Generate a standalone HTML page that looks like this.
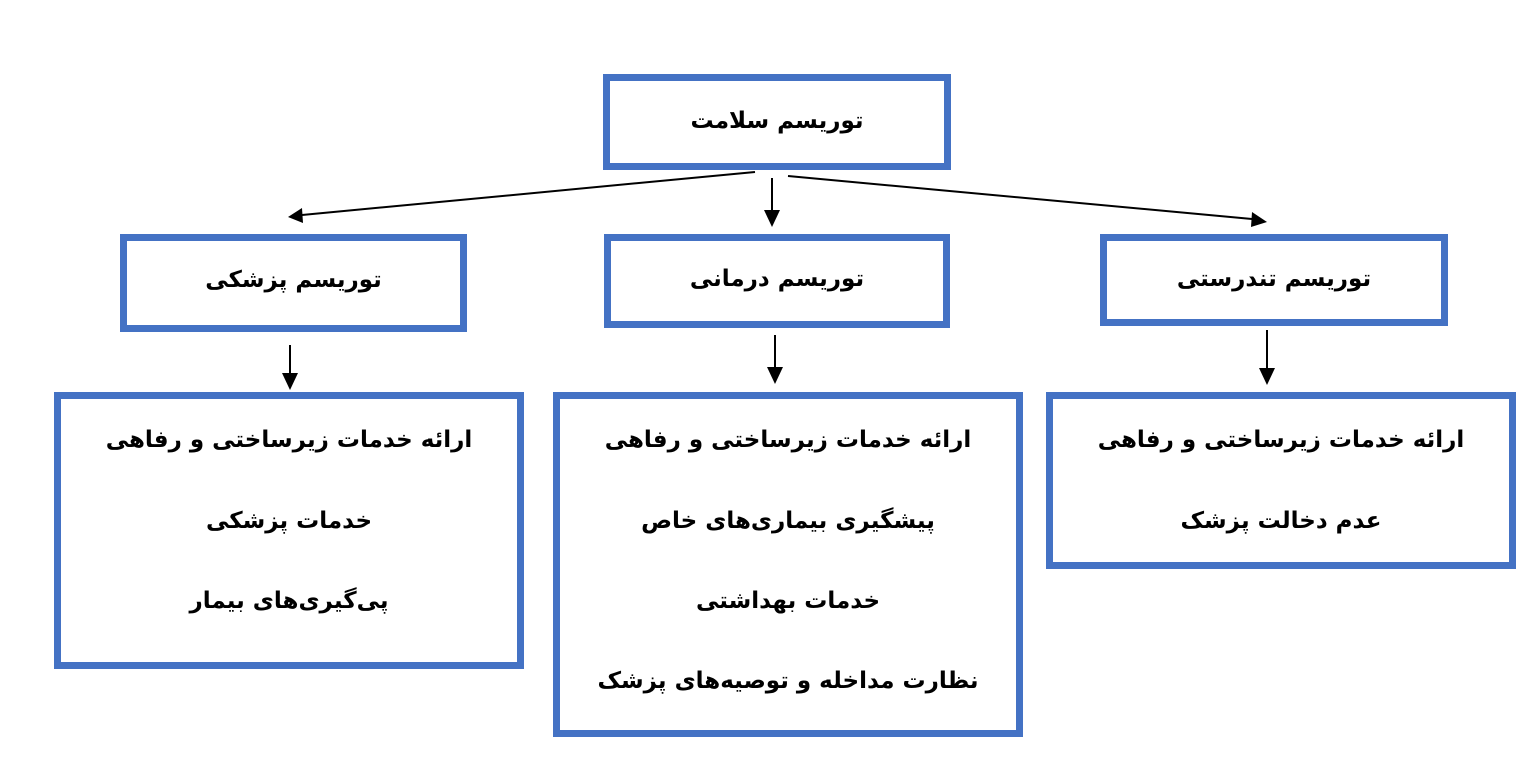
<!DOCTYPE html>
<html><head><meta charset="utf-8"><style>
body{margin:0;width:1532px;height:757px;background:#fff;position:relative;overflow:hidden;font-family:"DejaVu Sans",sans-serif;}
.b{position:absolute;box-sizing:border-box;border:7px solid #4472C4;background:#fff;}
.t{position:absolute;left:0;right:0;text-align:center;font-weight:bold;font-size:23px;direction:rtl;color:#000;line-height:30px;}
svg{position:absolute;left:0;top:0;}
</style></head><body>
<svg width="1532" height="757">
<g stroke="#000" stroke-width="2" fill="none">
<line x1="755" y1="172" x2="302" y2="215"/><path d="M302,208 L288,217 L303,223 z" fill="#000" stroke="none"/>
<line x1="788" y1="176" x2="1252" y2="219"/><path d="M1252,212 L1267,222 L1251,227 z" fill="#000" stroke="none"/>
<line x1="772" y1="178" x2="772" y2="212"/><path d="M764,210 L780,210 L772,227 z" fill="#000" stroke="none"/>
<line x1="290" y1="345" x2="290" y2="375"/><path d="M282,373 L298,373 L290,390 z" fill="#000" stroke="none"/>
<line x1="775" y1="335" x2="775" y2="369"/><path d="M767,367 L783,367 L775,384 z" fill="#000" stroke="none"/>
<line x1="1267" y1="330" x2="1267" y2="370"/><path d="M1259,368 L1275,368 L1267,385 z" fill="#000" stroke="none"/>
</g></svg>
<div class="b" style="left:603px;top:74px;width:348px;height:96px"><div class="t" style="top:25px">توریسم سلامت</div></div>
<div class="b" style="left:120px;top:234px;width:347px;height:98px"><div class="t" style="top:24px">توریسم پزشکی</div></div>
<div class="b" style="left:604px;top:234px;width:346px;height:94px"><div class="t" style="top:23px">توریسم درمانی</div></div>
<div class="b" style="left:1100px;top:234px;width:348px;height:92px"><div class="t" style="top:23px">توریسم تندرستی</div></div>
<div class="b" style="left:54px;top:392px;width:470px;height:277px">
<div class="t" style="top:26px">ارائه خدمات زیرساختی و رفاهی</div>
<div class="t" style="top:107px">خدمات پزشکی</div>
<div class="t" style="top:187px">پی‌گیری‌های بیمار</div></div>
<div class="b" style="left:553px;top:392px;width:470px;height:345px">
<div class="t" style="top:26px">ارائه خدمات زیرساختی و رفاهی</div>
<div class="t" style="top:107px">پیشگیری بیماری‌های خاص</div>
<div class="t" style="top:187px">خدمات بهداشتی</div>
<div class="t" style="top:267px">نظارت مداخله و توصیه‌های پزشک</div></div>
<div class="b" style="left:1046px;top:392px;width:470px;height:177px">
<div class="t" style="top:26px">ارائه خدمات زیرساختی و رفاهی</div>
<div class="t" style="top:107px">عدم دخالت پزشک</div></div>
</body></html>
